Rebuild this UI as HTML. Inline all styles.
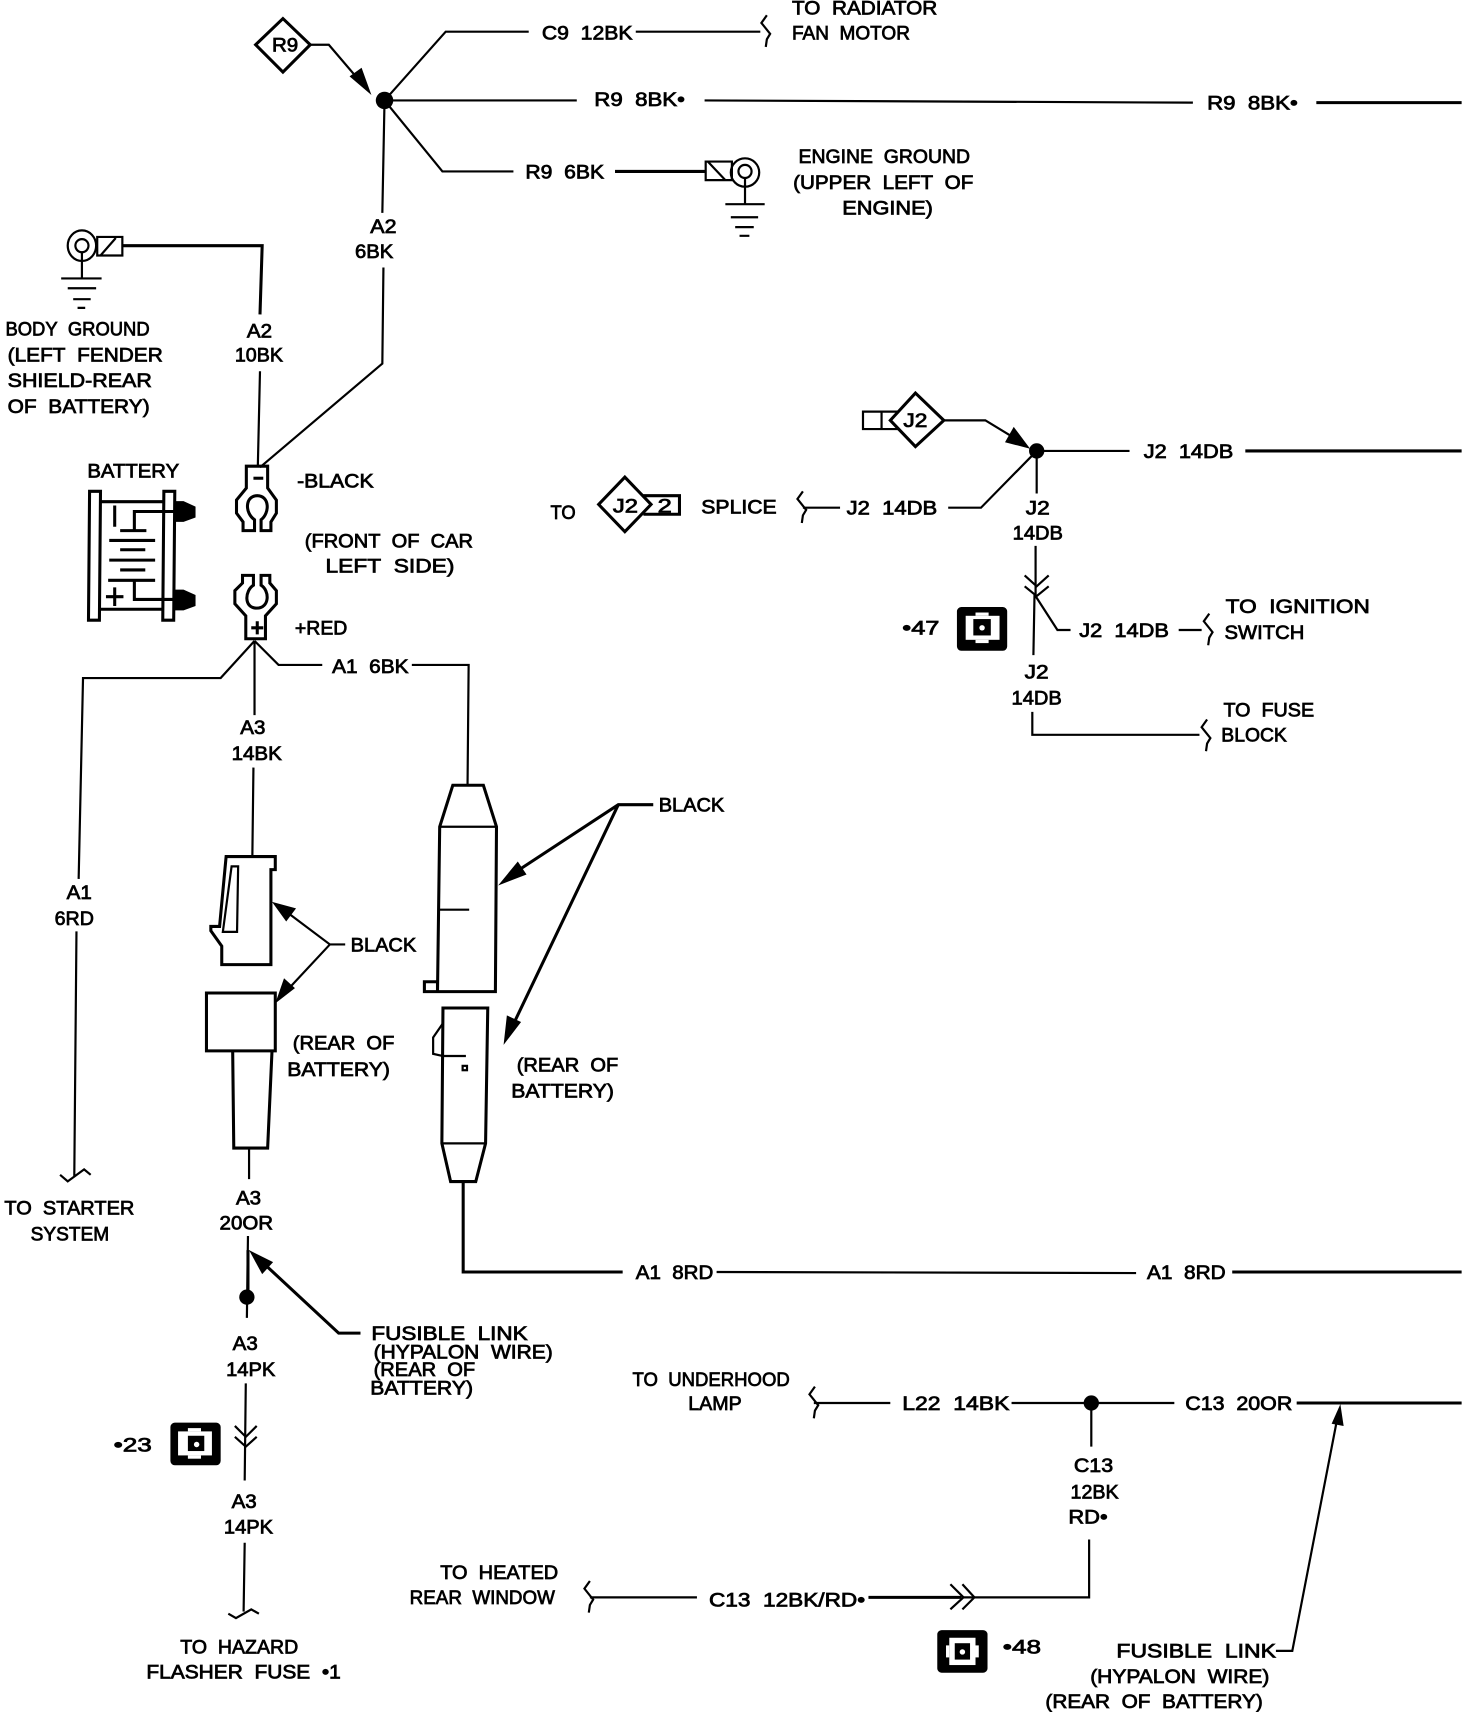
<!DOCTYPE html>
<html><head><meta charset="utf-8"><title>Wiring diagram</title>
<style>
html,body{margin:0;padding:0;background:#fff}
svg{display:block}
text{font-family:"Liberation Sans",sans-serif;font-size:18px;fill:#000;stroke:#000;stroke-width:.7}
.w{fill:none;stroke:#000;stroke-width:2;stroke-linejoin:miter}
.t{fill:none;stroke:#000;stroke-width:2.8}
.f{fill:#000;stroke:none}
</style></head><body>
<svg width="1472" height="1712" viewBox="0 0 1347.5 1568" preserveAspectRatio="none" xmlns="http://www.w3.org/2000/svg">
<defs>
<g id="w1"><path class="w" d="M1,-15 L-4,-8 L4,2 L1,7 L0,14"/></g>
</defs>

<!-- R9 area -->
<path class="t" d="M234,41 L259,17 L284,41 L259,66 Z"/>
<path class="w" d="M284,41 H301 L336,82"/>
<path class="f" d="M340,87 L320,70 L331,62 Z"/>
<circle class="f" cx="352" cy="92" r="8"/>
<path class="w" d="M352,92 L408,29 H484"/>
<path class="w" d="M582,29 H696"/>
<use href="#w1" x="701" y="29"/>
<path class="w" d="M352,92 H528"/>
<path class="w" d="M645,92 L1092,94"/>
<path class="t" d="M1205,94 H1338"/>
<path class="w" d="M352,92 L405,157 H470"/>
<path class="t" d="M563,157 H646"/>
<path class="w" d="M646,148 H670 V165 H646 Z M648,148 L664,165"/>
<circle class="w" cx="682" cy="158" r="13"/><circle class="w" cx="682" cy="157" r="6"/>
<path class="w" d="M682,164 V187 M664,187 H700 M669,199 H694 M673,208 H690 M677,216 H686"/>
<path class="w" d="M352,92 L350,195 M351,245 L350,333 L238,428"/>

<!-- body ground -->
<ellipse class="w" cx="75" cy="225" rx="13" ry="14"/><circle class="w" cx="75" cy="225" r="6"/>
<path class="w" d="M89,217 H112 V234 H89 Z M92,234 L106,218"/>
<path class="t" d="M112,225 H240 L238,288"/>
<path class="w" d="M238,340 L236,428 M75,231 V255 M56,255 H93 M62,264 H88 M67,274 H83 M71,282 H78"/>

<!-- battery -->
<path class="t" d="M82,450 H92 L91,568 H81 Z M150,450 H160 L159,568 H149 Z"/>
<path class="t" d="M92,459.500 H150 M91,558 H149"/>
<path class="f" d="M160,459 L168,459 L179,464 V474 L168,478 H160 Z M160,540 L168,540 L179,545 V555 L168,559 H160 Z"/>
<path class="t" d="M105,463 V482.500 M160,468.500 H123 V486 M110,486 H134 M100,495 H142 M110,503.500 H133 M100,513 H142 M110,522 H133 M99,531.500 H142 M123,531.500 V549 H160 M105,538 V555 M97,546.500 H113"/>

<!-- clamps -->
<path class="t" d="M225.500,427 H245 V447 L253,458 V470 L248,478 V486 H239 V476 C247,470 247,454 235.500,454 C224,454 224,470 233,476 V486 H222.500 V478 L216.500,470 V458 L225.500,447 Z"/>
<path class="t" d="M232,438 H241"/>
<path class="t" d="M225,585 H243 V564 L253,553 V541 L247,534 V527 H239 V536 C247,541 247,557 235,557 C223,557 224,541 232,536 V527 H222 V534 L215,541 V553 L225,564 Z"/>
<path class="t" d="M230,575 H241 M235.500,569 V581"/>

<!-- wires below + clamp -->
<path class="w" d="M233,587 L202,621 H76 L72,805 M70,853 L68,1078 M55,1076 L62,1082 L77,1071 L83,1076"/>
<path class="w" d="M233,587 V655 M233,587 L255,609 H295 M377,609 H429 L428,719 M232,703 L231,785"/>

<!-- left connector -->
<g transform="translate(0,1.500)">
<path class="t" d="M207,783 H252 V795 H248 V882 H203 V865 L193,851 V847 H201 Z"/>
<path class="w" d="M204,852 L212,792 H218 L217,852 Z"/>
<path class="t" d="M189,908 H252 V961 H189 Z M213,961 L214,1050 H245 L249,961"/>
</g>
<path class="w" d="M228,1051 V1080 M227,1132 L226,1207"/>
<path class="t" d="M227,1145 V1185"/>
<circle class="f" cx="226" cy="1188" r="7"/>
<path class="w" d="M225,1267 L224,1356 M215,1306 L225,1316 L235,1306 M215,1316 L225,1325 L235,1316 M224,1413 L223,1476 M209,1478 L216,1482 L230,1474 L237,1478"/>
<path class="w" d="M316,865 H302 L262,835 M302,865 L260,910"/>
<path class="f" d="M249,826 L271,832 L262,844 Z M252,919 L260,896 L270,905 Z"/>

<!-- right connector -->
<g transform="translate(0.500,1.200)">
<path class="t" d="M414,718 H442 L454,756 L453,907 H400 L402,756 Z M388,898 H400 V907 H388 Z"/>
<path class="w" d="M402,756 H454 M402,832 H429"/>
<path class="t" d="M405,922 H446 L444,1046 L435,1081 H412 L404,1046 Z"/>
<path class="w" d="M405,936 L396,949 V964 L405,966 H426 M404,1046 H444"/>
<rect class="w" x="423" y="975" width="4" height="4"/>
</g>
<path class="t" d="M424,1083 V1165 H570"/>
<path class="w" d="M656,1165 L1040,1166"/>
<path class="t" d="M1128,1165 H1338"/>
<path class="t" d="M598,737 H566 L470,800 M566,737 L470,938"/>
<path class="f" d="M456,811 L474,789 L482,801 Z M461,957 L464,930 L477,936 Z"/>

<!-- fusible left -->
<path class="t" d="M330,1221 H310 L238,1154"/>
<path class="f" d="M228,1145 L250,1156 L240,1167 Z"/>

<!-- J2 -->
<path class="t" d="M815,385 L838,360 L864,385 L838,409 Z"/>
<path class="w" d="M823,377 H790 V393 H823 M807,377 V393"/>
<path class="w" d="M864,385 H902 L930,402"/>
<path class="f" d="M943,411 L920,405 L928,391 Z"/>
<circle class="f" cx="949" cy="413" r="7"/>
<path class="w" d="M949,413 H1034"/><path class="t" d="M1140,413 H1338"/>
<path class="w" d="M949,413 L898,465 H868 M949,413 V452 M948,500 V545 M938,527 L949,537 L960,527 M938,537 L949,546 L960,537 M947,545 L946,600 M948,546 L968,577 H980 M1079,577 H1100 M945,652 V673 H1098 M769,465 H735"/>
<use href="#w1" x="1106" y="577"/>
<use href="#w1" x="1104" y="674"/>
<use href="#w1" x="734" y="465"/>
<path class="t" d="M548,462 L572,437 L596,462 L572,487 Z"/>
<path class="t" d="M589,454 H622 V471 H589"/>

<!-- icons -->
<rect class="f" x="876" y="556" width="46" height="40" rx="4"/>
<rect x="884" y="564" width="31" height="22" fill="#fff"/><rect x="893" y="561" width="12" height="3" fill="#fff"/><rect x="893" y="586" width="12" height="3" fill="#fff"/>
<rect class="f" x="891" y="567" width="16" height="15"/><circle cx="899" cy="575" r="2.500" fill="#fff"/>
<rect class="f" x="156" y="1303" width="46" height="39" rx="4"/>
<rect x="163" y="1311" width="31" height="22" fill="#fff"/><rect x="172" y="1308" width="12" height="3" fill="#fff"/><rect x="172" y="1333" width="12" height="3" fill="#fff"/>
<rect class="f" x="172" y="1315" width="15" height="14"/><circle cx="180" cy="1323" r="2.500" fill="#fff"/>
<rect class="f" x="858" y="1493" width="46" height="39" rx="4"/>
<rect x="869" y="1500" width="24" height="25" fill="#fff"/><rect x="866" y="1507" width="3" height="11" fill="#fff"/><rect x="893" y="1507" width="3" height="11" fill="#fff"/>
<rect class="f" x="874" y="1505" width="14" height="15"/><circle cx="881" cy="1513" r="2.500" fill="#fff"/>

<!-- bottom right -->
<use href="#w1" x="745" y="1285"/>
<path class="w" d="M745,1285 H815 M926,1285 H1075 M999,1285 V1325 M997,1410 V1463 H880"/>
<path class="t" d="M1187,1285 H1338 M795,1463 H880"/>
<circle class="f" cx="999" cy="1285" r="7"/>
<use href="#w1" x="539" y="1463"/>
<path class="w" d="M540,1463 H638 M870,1451 L882,1463 L870,1474 M881,1451 L892,1463 L881,1474"/>
<path class="w" d="M1168,1512 H1183 L1224,1300"/>
<path class="f" d="M1227,1286 L1230,1306 L1219,1304 Z"/>

<!-- text -->
<g transform="translate(0,-0.700)">
<text lengthAdjust="spacingAndGlyphs" x="725" y="14" textLength="133">TO&#160;&#160;RADIATOR</text>
<text lengthAdjust="spacingAndGlyphs" x="725" y="37" textLength="108">FAN&#160;&#160;MOTOR</text>
<text lengthAdjust="spacingAndGlyphs" x="496" y="37" textLength="83">C9&#160;&#160;12BK</text>
<text lengthAdjust="spacingAndGlyphs" x="544" y="98" textLength="83">R9&#160;&#160;8BK•</text>
<text lengthAdjust="spacingAndGlyphs" x="1105" y="101" textLength="83">R9&#160;&#160;8BK•</text>
<text lengthAdjust="spacingAndGlyphs" x="481" y="164" textLength="72">R9&#160;&#160;6BK</text>
<text lengthAdjust="spacingAndGlyphs" x="249" y="48" textLength="24">R9</text>
<text lengthAdjust="spacingAndGlyphs" x="731" y="150" textLength="157">ENGINE&#160;&#160;GROUND</text>
<text lengthAdjust="spacingAndGlyphs" x="726" y="174" textLength="165">(UPPER&#160;&#160;LEFT&#160;&#160;OF</text>
<text lengthAdjust="spacingAndGlyphs" x="771" y="197" textLength="83">ENGINE)</text>
<text lengthAdjust="spacingAndGlyphs" x="339" y="214" textLength="24">A2</text>
<text lengthAdjust="spacingAndGlyphs" x="325" y="237" textLength="35">6BK</text>
<text lengthAdjust="spacingAndGlyphs" x="226" y="310" textLength="23">A2</text>
<text lengthAdjust="spacingAndGlyphs" x="215" y="332" textLength="44">10BK</text>
<text lengthAdjust="spacingAndGlyphs" x="5" y="308" textLength="132">BODY&#160;&#160;GROUND</text>
<text lengthAdjust="spacingAndGlyphs" x="7" y="332" textLength="142">(LEFT&#160;&#160;FENDER</text>
<text lengthAdjust="spacingAndGlyphs" x="7" y="355" textLength="132">SHIELD-REAR</text>
<text lengthAdjust="spacingAndGlyphs" x="7" y="379" textLength="130">OF&#160;&#160;BATTERY)</text>
<text lengthAdjust="spacingAndGlyphs" x="80" y="438" textLength="84">BATTERY</text>
<text lengthAdjust="spacingAndGlyphs" x="272" y="447" textLength="70">-BLACK</text>
<text lengthAdjust="spacingAndGlyphs" x="279" y="502" textLength="154">(FRONT&#160;&#160;OF&#160;&#160;CAR</text>
<text lengthAdjust="spacingAndGlyphs" x="298" y="525" textLength="118">LEFT&#160;&#160;SIDE)</text>
<text lengthAdjust="spacingAndGlyphs" x="270" y="582" textLength="48">+RED</text>
<text lengthAdjust="spacingAndGlyphs" x="504" y="476" textLength="23">TO</text>
<text lengthAdjust="spacingAndGlyphs" x="561" y="470" textLength="23">J2</text>
<text lengthAdjust="spacingAndGlyphs" x="602" y="470" textLength="13">2</text>
<text lengthAdjust="spacingAndGlyphs" x="642" y="471" textLength="69">SPLICE</text>
<text lengthAdjust="spacingAndGlyphs" x="775" y="472" textLength="83">J2&#160;&#160;14DB</text>
<text lengthAdjust="spacingAndGlyphs" x="827" y="392" textLength="22">J2</text>
<text lengthAdjust="spacingAndGlyphs" x="1047" y="420" textLength="82">J2&#160;&#160;14DB</text>
<text lengthAdjust="spacingAndGlyphs" x="939" y="472" textLength="22">J2</text>
<text lengthAdjust="spacingAndGlyphs" x="927" y="495" textLength="46">14DB</text>
<text lengthAdjust="spacingAndGlyphs" x="826" y="582" textLength="34">•47</text>
<text lengthAdjust="spacingAndGlyphs" x="988" y="584" textLength="82">J2&#160;&#160;14DB</text>
<text lengthAdjust="spacingAndGlyphs" x="1122" y="562" textLength="132">TO&#160;&#160;IGNITION</text>
<text lengthAdjust="spacingAndGlyphs" x="1121" y="586" textLength="73">SWITCH</text>
<text lengthAdjust="spacingAndGlyphs" x="938" y="622" textLength="22">J2</text>
<text lengthAdjust="spacingAndGlyphs" x="926" y="646" textLength="46">14DB</text>
<text lengthAdjust="spacingAndGlyphs" x="1120" y="657" textLength="83">TO&#160;&#160;FUSE</text>
<text lengthAdjust="spacingAndGlyphs" x="1118" y="680" textLength="60">BLOCK</text>
<text lengthAdjust="spacingAndGlyphs" x="304" y="617" textLength="70">A1&#160;&#160;6BK</text>
<text lengthAdjust="spacingAndGlyphs" x="220" y="673" textLength="23">A3</text>
<text lengthAdjust="spacingAndGlyphs" x="212" y="697" textLength="46">14BK</text>
<text lengthAdjust="spacingAndGlyphs" x="603" y="744" textLength="60">BLACK</text>
<text lengthAdjust="spacingAndGlyphs" x="61" y="824" textLength="23">A1</text>
<text lengthAdjust="spacingAndGlyphs" x="50" y="848" textLength="36">6RD</text>
<text lengthAdjust="spacingAndGlyphs" x="321" y="872" textLength="60">BLACK</text>
<text lengthAdjust="spacingAndGlyphs" x="268" y="962" textLength="93">(REAR&#160;&#160;OF</text>
<text lengthAdjust="spacingAndGlyphs" x="263" y="986" textLength="94">BATTERY)</text>
<text lengthAdjust="spacingAndGlyphs" x="473" y="982" textLength="93">(REAR&#160;&#160;OF</text>
<text lengthAdjust="spacingAndGlyphs" x="468" y="1006" textLength="94">BATTERY)</text>
<text lengthAdjust="spacingAndGlyphs" x="4" y="1113" textLength="119">TO&#160;&#160;STARTER</text>
<text lengthAdjust="spacingAndGlyphs" x="28" y="1137" textLength="72">SYSTEM</text>
<text lengthAdjust="spacingAndGlyphs" x="216" y="1104" textLength="23">A3</text>
<text lengthAdjust="spacingAndGlyphs" x="201" y="1127" textLength="49">20OR</text>
<text lengthAdjust="spacingAndGlyphs" x="582" y="1172" textLength="71">A1&#160;&#160;8RD</text>
<text lengthAdjust="spacingAndGlyphs" x="1050" y="1172" textLength="72">A1&#160;&#160;8RD</text>
<text lengthAdjust="spacingAndGlyphs" x="340" y="1228" textLength="143">FUSIBLE&#160;&#160;LINK</text>
<text lengthAdjust="spacingAndGlyphs" x="342" y="1245" textLength="164">(HYPALON&#160;&#160;WIRE)</text>
<text lengthAdjust="spacingAndGlyphs" x="342" y="1261" textLength="93">(REAR&#160;&#160;OF</text>
<text lengthAdjust="spacingAndGlyphs" x="339" y="1278" textLength="94">BATTERY)</text>
<text lengthAdjust="spacingAndGlyphs" x="213" y="1237" textLength="23">A3</text>
<text lengthAdjust="spacingAndGlyphs" x="207" y="1261" textLength="45">14PK</text>
<text lengthAdjust="spacingAndGlyphs" x="104" y="1330" textLength="35">•23</text>
<text lengthAdjust="spacingAndGlyphs" x="212" y="1382" textLength="23">A3</text>
<text lengthAdjust="spacingAndGlyphs" x="205" y="1405" textLength="45">14PK</text>
<text lengthAdjust="spacingAndGlyphs" x="165" y="1515" textLength="108">TO&#160;&#160;HAZARD</text>
<text lengthAdjust="spacingAndGlyphs" x="134" y="1538" textLength="178">FLASHER&#160;&#160;FUSE&#160;&#160;•1</text>
<text lengthAdjust="spacingAndGlyphs" x="579" y="1270" textLength="144">TO&#160;&#160;UNDERHOOD</text>
<text lengthAdjust="spacingAndGlyphs" x="630" y="1292" textLength="49">LAMP</text>
<text lengthAdjust="spacingAndGlyphs" x="826" y="1292" textLength="98">L22&#160;&#160;14BK</text>
<text lengthAdjust="spacingAndGlyphs" x="1085" y="1292" textLength="98">C13&#160;&#160;20OR</text>
<text lengthAdjust="spacingAndGlyphs" x="983" y="1349" textLength="36">C13</text>
<text lengthAdjust="spacingAndGlyphs" x="980" y="1373" textLength="44">12BK</text>
<text lengthAdjust="spacingAndGlyphs" x="978" y="1396" textLength="36">RD•</text>
<text lengthAdjust="spacingAndGlyphs" x="403" y="1447" textLength="108">TO&#160;&#160;HEATED</text>
<text lengthAdjust="spacingAndGlyphs" x="375" y="1470" textLength="133">REAR&#160;&#160;WINDOW</text>
<text lengthAdjust="spacingAndGlyphs" x="649" y="1472" textLength="143">C13&#160;&#160;12BK/RD•</text>
<text lengthAdjust="spacingAndGlyphs" x="918" y="1515" textLength="35">•48</text>
<text lengthAdjust="spacingAndGlyphs" x="1022" y="1519" textLength="146">FUSIBLE&#160;&#160;LINK</text>
<text lengthAdjust="spacingAndGlyphs" x="998" y="1542" textLength="164">(HYPALON&#160;&#160;WIRE)</text>
<text lengthAdjust="spacingAndGlyphs" x="957" y="1565" textLength="199">(REAR&#160;&#160;OF&#160;&#160;BATTERY)</text>
</g>
</svg>
</body></html>
